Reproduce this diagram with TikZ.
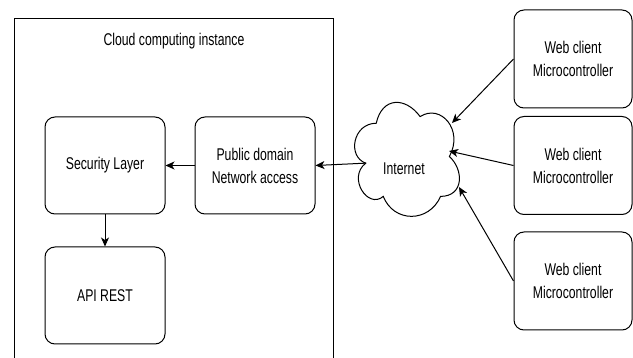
\documentclass[tikz,border=0pt]{standalone}
\usepackage{fontspec}
\setmainfont{Liberation Sans}[FakeStretch=0.72]
\usetikzlibrary{arrows.meta}
\begin{document}
\begin{tikzpicture}[x=1pt, y=-1pt,
  every node/.style={font=\fontsize{17}{23}\selectfont, inner sep=0pt},
  box/.style={draw, rounded corners=10pt, line width=1pt, align=center,
    minimum width=120pt, minimum height=97pt},
  client/.style={box, minimum width=118pt, minimum height=98pt},
  link/.style={draw, line width=1pt, -{Stealth[length=9pt, width=8pt, inset=2.5pt]}}]
  \useasboundingbox (0,0) rectangle (633,358);

  % container running off the bottom edge
  \begin{scope}
    \clip (0,0) rectangle (633,358);
    \node[draw, line width=1pt, minimum width=319pt, minimum height=400pt,
      anchor=north west] (inst) at (14,18) {};
  \end{scope}
  \node (title) at (174,41) {Cloud computing instance};

  % services inside the instance
  \node[box] (sec) at (105,165.5) {Security Layer};
  \node[box] (pub) at (255,165.5) {Public domain\\Network access};
  \node[box] (api) at (105,295.5) {API REST};

  % clients
  \node[client] (c1) at (573,59) {Web client\\Microcontroller};
  \node[client] (c2) at (573,165.5) {Web client\\Microcontroller};
  \node[client] (c3) at (573,281) {Web client\\Microcontroller};

  % internet cloud
  \begin{scope}[shift={(347,90)}, x=117pt, y=-133pt]
    \draw[line width=1pt]
      (0.25,0.25) .. controls (0.05,0.25) and (0,0.5) .. (0.16,0.55)
      .. controls (0,0.66) and (0.18,0.9) .. (0.31,0.8)
      .. controls (0.4,1) and (0.7,1) .. (0.8,0.8)
      .. controls (1,0.8) and (1,0.6) .. (0.875,0.5)
      .. controls (1,0.3) and (0.8,0.1) .. (0.625,0.2)
      .. controls (0.5,0.05) and (0.3,0.05) .. (0.25,0.25) -- cycle;
    \coordinate (cloudW) at (0.16,0.55);
  \end{scope}
  \node (net) at (404,169) {Internet};
  \coordinate (in1) at (452,123);
  \coordinate (in2) at (449,151);
  \coordinate (in3) at (459,187);

  % connectors
  \draw[link] (c1.west) -- (in1);
  \draw[link] (c2.west) -- (in2);
  \draw[link] (c3.west) -- (in3);
  \draw[link] (cloudW) -- (pub.east);
  \draw[link] (pub.west) -- (sec.east);
  \draw[link] (sec.south) -- (api.north);
\end{tikzpicture}
\end{document}
